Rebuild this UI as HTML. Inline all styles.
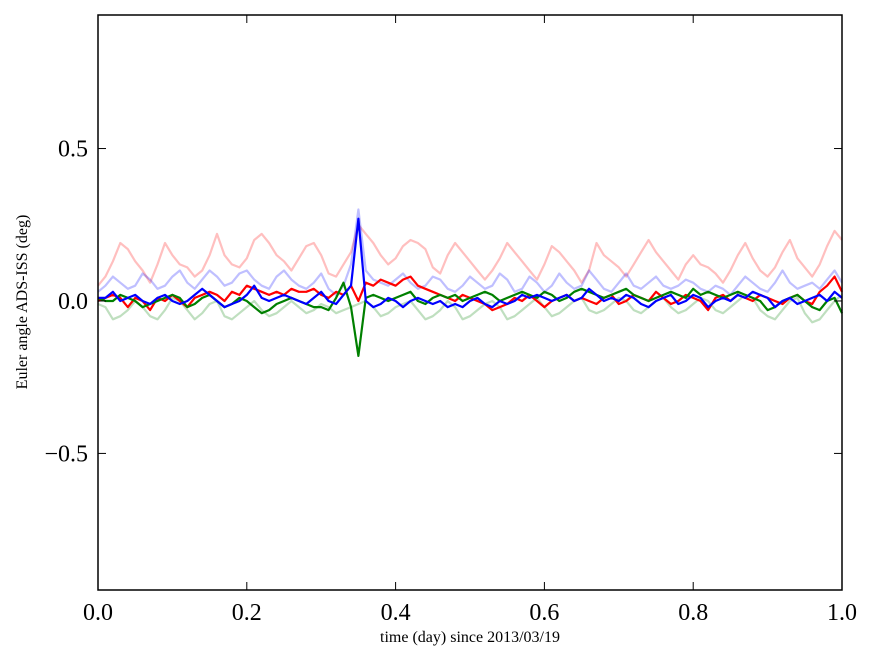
<!DOCTYPE html>
<html><head><meta charset="utf-8"><style>
body{margin:0;background:#fff;}
svg{display:block;font-family:"Liberation Serif",serif;}
</style></head><body>
<svg id="chart" width="875" height="662">
<g id="plot"></g>
</svg>
<script>
const lightRed=[.05,.08,.13,.19,.17,.13,.10,.06,.12,.19,.15,.12,.11,.08,.10,.15,.22,.15,.12,.11,.14,.20,.22,.19,.15,.13,.10,.14,.18,.19,.15,.09,.08,.12,.16,.25,.22,.19,.15,.12,.14,.18,.20,.19,.17,.11,.09,.15,.19,.16,.13,.10,.07,.10,.14,.19,.16,.13,.10,.07,.12,.18,.16,.13,.10,.06,.10,.19,.15,.13,.11,.08,.12,.16,.20,.16,.13,.10,.07,.12,.15,.12,.11,.09,.06,.10,.15,.19,.14,.10,.08,.11,.16,.20,.14,.11,.08,.12,.18,.23,.20];
const lightBlue=[.03,.05,.08,.06,.04,.05,.09,.07,.04,.05,.08,.10,.06,.04,.07,.10,.08,.05,.06,.09,.10,.07,.05,.04,.08,.10,.07,.05,.04,.06,.09,.04,.02,.05,.12,.30,.10,.07,.06,.05,.07,.09,.06,.04,.05,.08,.07,.04,.03,.05,.08,.06,.04,.05,.09,.07,.03,.04,.08,.06,.03,.05,.09,.06,.04,.05,.10,.07,.04,.03,.06,.09,.05,.04,.06,.08,.05,.04,.05,.07,.06,.04,.03,.05,.04,.02,.05,.08,.06,.04,.03,.06,.10,.06,.04,.05,.06,.04,.07,.10,.06];
const lightGreen=[-.01,-.02,-.06,-.05,-.03,0,-.02,-.05,-.06,-.03,.01,0,-.03,-.06,-.04,-.01,0,-.05,-.06,-.04,-.02,0,-.03,-.05,-.04,-.02,0,-.02,-.04,-.03,-.01,-.02,-.04,-.03,-.02,-.01,0,-.02,-.05,-.04,-.02,-.01,0,-.03,-.06,-.05,-.03,0,-.02,-.06,-.05,-.03,-.01,0,-.02,-.06,-.05,-.03,-.01,.01,-.02,-.05,-.04,-.02,0,.01,-.03,-.04,-.03,-.01,.01,0,-.03,-.04,-.02,0,.01,-.02,-.04,-.03,-.01,.01,0,-.03,-.04,-.02,0,.02,.01,-.03,-.05,-.06,-.03,0,.01,-.04,-.07,-.06,-.03,0,.02];
const red=[0,.01,.02,.01,-.02,.01,0,-.03,.01,0,.02,0,-.02,.01,.02,.03,.02,0,.03,.02,.05,.04,.03,.02,.03,.02,.04,.03,.03,.04,.02,.01,.03,.02,.05,0,.06,.05,.07,.06,.05,.07,.08,.05,.04,.03,.02,.01,0,.02,.01,0,-.01,-.03,-.02,-.01,.01,0,.02,0,-.02,0,.01,.02,0,.01,0,-.01,.01,.02,-.01,0,.02,.01,0,.03,.01,-.01,0,.02,.01,0,-.03,.01,.02,0,.02,.01,0,.02,.01,0,-.01,.01,.02,0,-.01,.03,.05,.08,.03];
const green=[.01,0,0,.02,.01,0,-.02,-.01,0,.01,.02,.01,-.02,-.01,.01,.02,0,-.02,-.01,.01,0,-.02,-.04,-.03,-.01,0,.01,0,-.01,-.02,-.02,-.03,.01,.06,-.02,-.18,.01,.02,.01,0,.01,.02,.03,0,-.01,.01,.02,.01,.02,0,.01,.02,.03,.02,0,.01,.02,.03,.02,.01,.03,.02,0,.01,.03,.04,.03,.02,.01,.02,.03,.04,.02,.01,0,.01,.02,.03,.02,.01,.04,.02,.03,.02,.01,.02,.03,.02,.01,0,-.03,-.02,0,.01,.02,0,-.02,-.03,0,.01,-.04];
const blue=[.01,.01,.03,0,.01,.02,0,-.01,.01,.02,0,-.01,0,.02,.04,.02,0,-.02,-.01,0,.02,.05,.01,0,.01,.02,.01,0,-.01,.01,.03,0,-.01,.02,.05,.27,0,-.02,-.01,.01,0,-.02,0,.01,0,-.01,0,-.02,-.01,-.02,0,.01,-.01,-.02,0,-.01,0,.02,.01,.02,.01,0,.01,.02,0,.01,.04,.02,0,.01,0,.02,.01,-.01,-.02,0,.01,.02,-.01,0,.02,.01,-.02,0,.01,0,.02,.01,.03,.02,.01,-.02,0,.01,-.01,0,.01,.02,0,.03,.01];
const xTicks=[0,0.2,0.4,0.6,0.8,1.0];
const xTickLabels=["0.0","0.2","0.4","0.6","0.8","1.0"];
const yTicks=[-0.5,0,0.5];
const yTickLabels=["\u22120.5","0.0","0.5"];

const L=98,R=842,T=15,B=590;
const yMin=-0.948,yMax=0.938;
const sx=v=>L+(v-0)/(1-0)*(R-L);
const sy=v=>B-(v-yMin)/(yMax-yMin)*(B-T);
const NS="http://www.w3.org/2000/svg";
const svg=document.getElementById('chart');
const plot=document.getElementById('plot');
function mk(tag,attrs,parent){const e=document.createElementNS(NS,tag);for(const k in attrs)e.setAttribute(k,attrs[k]);(parent||svg).appendChild(e);return e;}

const series=[[lightRed,'rgba(255,0,0,0.25)','light-red-line'],[lightBlue,'rgba(0,0,255,0.25)','light-blue-line'],[lightGreen,'rgba(0,128,0,0.25)','light-green-line'],[red,'#ff0000','red-line'],[green,'#008000','green-line'],[blue,'#0000ff','blue-line']];
series.forEach(([d,c,n])=>{
  const pts=d.map((v,i)=>sx(i/(d.length-1)).toFixed(1)+','+sy(v).toFixed(1)).join(' ');
  const p=mk('polyline',{points:pts,fill:'none',stroke:c,'stroke-width':2.2,'stroke-linejoin':'round'},plot);
  
  
});

const frame=mk('rect',{x:L,y:T,width:R-L,height:B-T,fill:'none',stroke:'#000','stroke-width':1.5});



xTicks.forEach((v,i)=>{
  const x=sx(v);
  mk('line',{x1:x,x2:x,y1:B,y2:B-8,stroke:'#000'});
  mk('line',{x1:x,x2:x,y1:T,y2:T+8,stroke:'#000'});
  const t=mk('text',{x:x,y:B+30,'text-anchor':'middle','font-size':24});
  t.textContent=xTickLabels[i];
  
  
});
yTicks.forEach((v,i)=>{
  const y=sy(v);
  mk('line',{x1:L,x2:L+8,y1:y,y2:y,stroke:'#000'});
  mk('line',{x1:R,x2:R-8,y1:y,y2:y,stroke:'#000'});
  const t=mk('text',{x:L-10,y:y+8,'text-anchor':'end','font-size':24});
  t.textContent=yTickLabels[i];
  
  
});
const xl=mk('text',{x:470,y:642,'text-anchor':'middle','font-size':16});
xl.textContent='time (day) since 2013/03/19';


const yl=mk('text',{x:0,y:0,'text-anchor':'middle','font-size':16,transform:'translate(27,302) rotate(-90)'});
yl.textContent='Euler angle ADS-ISS (deg)';


</script>
</body></html>
